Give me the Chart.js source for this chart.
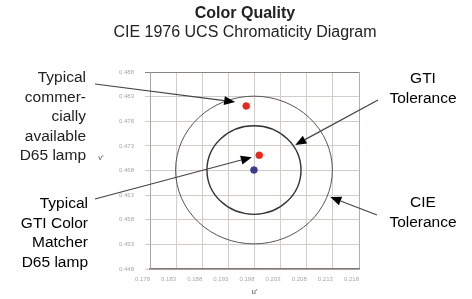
<!DOCTYPE html>
<html>
<head>
<meta charset="utf-8">
<script src="https://cdn.jsdelivr.net/npm/chart.js@4/dist/chart.umd.min.js"></script>
<style>
  html, body { margin: 0; padding: 0; background: #fff; }
  #wrap { width: 472px; height: 299px; position: relative; }
</style>
</head>
<body>
<div id="wrap"><canvas id="chart"></canvas></div>
<script>
// axis ticks
const uTicks = [0.178, 0.183, 0.188, 0.193, 0.198, 0.203, 0.208, 0.213, 0.218];
const uTickLabels = ['0.178', '0.183', '0.188', '0.193', '0.198', '0.203', '0.208', '0.213', '0.218'];
const vTicks = [0.448, 0.453, 0.458, 0.463, 0.468, 0.473, 0.478, 0.483, 0.488];
const vTickLabels = ['0.448', '0.453', '0.458', '0.463', '0.468', '0.473', '0.478', '0.483', '0.488'];

// measured lamps (u', v')
const lampNames = ['Typical commercially available D65 lamp', 'Typical GTI Color Matcher D65 lamp', 'D65 target'];
const lampU = [0.1964, 0.1989, 0.1979];
const lampV = [0.4811, 0.4711, 0.4681];
const lampColors = ['#e8281e', '#e8281e', '#3b3b8f'];

// tolerance circles round the D65 target
const toleranceNames = ['GTI Tolerance', 'CIE Tolerance'];
const toleranceRadius = [0.009, 0.015];

// callouts: text lines and the point (u', v') the arrow points at
const calloutLines = [
    ['Typical', 'commer-', 'cially', 'available', 'D65 lamp'],
    ['Typical', 'GTI Color', 'Matcher', 'D65 lamp'],
    ['GTI', 'Tolerance'],
    ['CIE', 'Tolerance']
];
const calloutTipU = [0.1943, 0.1975, 0.2058, 0.2125];
const calloutTipV = [0.4819, 0.4707, 0.4732, 0.4626];

const titleText = 'Color Quality';
const subtitleText = 'CIE 1976 UCS Chromaticity Diagram';

const FONT = '"Liberation Sans", Arial, sans-serif';

const circlesPlugin = {
    id: 'circles',
    beforeDatasetsDraw(chart) {
        const {ctx, scales: {x, y}} = chart;
        const cu = lampU[2], cv = lampV[2];
        const cx = x.getPixelForValue(cu);
        const cy = y.getPixelForValue(cv);
        ctx.save();
        toleranceRadius.forEach((r, i) => {
            const rx = x.getPixelForValue(cu + r) - cx;
            const ry = cy - y.getPixelForValue(cv + r);
            ctx.beginPath();
            ctx.ellipse(cx, cy, rx, ry, 0, 0, Math.PI * 2);
            ctx.strokeStyle = i === 0 ? '#333' : '#555';
            ctx.lineWidth = i === 0 ? 1.4 : 1;
            ctx.stroke();
        });
        ctx.restore();
    }
};

function arrow(ctx, x0, y0, x1, y1) {
    const ang = Math.atan2(y1 - y0, x1 - x0);
    const len = 11, half = 4.5;
    const bx = x1 - len * Math.cos(ang), by = y1 - len * Math.sin(ang);
    ctx.beginPath();
    ctx.moveTo(x0, y0);
    ctx.lineTo(bx, by);
    ctx.strokeStyle = '#444';
    ctx.lineWidth = 1.2;
    ctx.stroke();
    ctx.beginPath();
    ctx.moveTo(x1, y1);
    ctx.lineTo(bx + half * Math.sin(ang), by - half * Math.cos(ang));
    ctx.lineTo(bx - half * Math.sin(ang), by + half * Math.cos(ang));
    ctx.closePath();
    ctx.fillStyle = '#000';
    ctx.fill();
}

const calloutPlugin = {
    id: 'callouts',
    afterDraw(chart) {
        const {ctx, scales: {x, y}} = chart;
        ctx.save();
        ctx.textBaseline = 'middle';
        ctx.textAlign = 'center';
        ctx.fillStyle = '#222';
        ctx.font = 'bold 16px ' + FONT;
        ctx.fillText(titleText, 245, 14);
        ctx.font = '16px ' + FONT;
        ctx.fillText(subtitleText, 245, 33);

        // text blocks: anchor x, first line y, alignment, arrow tail
        const blocks = [
            {x: 86, y: 78, align: 'right', tail: [95, 84]},
            {x: 88, y: 204, align: 'right', tail: [95, 199]},
            {x: 423, y: 79, align: 'center', tail: [378, 100]},
            {x: 423, y: 203, align: 'center', tail: [377, 215]}
        ];
        ctx.font = '15.5px ' + FONT;
        blocks.forEach((b, i) => {
            ctx.textAlign = b.align;
            calloutLines[i].forEach((t, j) => ctx.fillText(t, b.x, b.y + j * 19.5));
            arrow(ctx, b.tail[0], b.tail[1],
                x.getPixelForValue(calloutTipU[i]), y.getPixelForValue(calloutTipV[i]));
        });
        // v' axis title, upright
        ctx.font = '8px ' + FONT;
        ctx.fillStyle = '#555';
        ctx.textAlign = 'center';
        ctx.fillText("v'", 101, 158);
        ctx.restore();
    }
};

const yGridColor = (ctx) => ctx.index === 8 ? '#8a8380' : '#d3ccc8';
const xGridColor = (ctx) => ctx.index === 8 ? '#b5aeaa' : '#d3ccc8';

new Chart(document.getElementById('chart'), {
    type: 'scatter',
    data: {
        datasets: [{
            label: 'Lamps',
            data: lampU.map((u, i) => ({x: u, y: lampV[i]})),
            backgroundColor: lampColors,
            borderColor: lampColors,
            pointRadius: 3.3,
            pointHoverRadius: 3.3
        }]
    },
    options: {
        responsive: true,
        maintainAspectRatio: false,
        animation: false,
        devicePixelRatio: 1,
        layout: { padding: { left: 100, right: 113, top: 72, bottom: 0 } },
        plugins: {
            legend: { display: false },
            tooltip: { enabled: false },
            title: { display: false }
        },
        scales: {
            x: {
                type: 'linear',
                min: 0.178,
                max: 0.218,
                afterBuildTicks: s => { s.ticks = uTicks.map(v => ({value: v})); },
                afterFit: s => { s.height = 30; },
                ticks: {
                    callback: (v, i) => uTickLabels[i],
                    align: 'end',
                    padding: 7,
                    color: '#a8a8a8',
                    font: { family: FONT, size: 6 },
                    maxRotation: 0
                },
                grid: { color: xGridColor, drawTicks: false },
                border: { color: '#7f7874', width: 1.5 },
                title: {
                    display: true,
                    text: "u'",
                    color: '#555',
                    font: { family: FONT, size: 8 },
                    padding: { top: 0, bottom: 2 }
                }
            },
            y: {
                type: 'linear',
                min: 0.448,
                max: 0.488,
                afterBuildTicks: s => { s.ticks = vTicks.map(v => ({value: v})); },
                afterFit: s => { s.width = 50; },
                ticks: {
                    callback: (v, i) => vTickLabels[i],
                    padding: 11,
                    color: '#a8a8a8',
                    font: { family: FONT, size: 6 }
                },
                grid: { color: yGridColor, tickLength: 5 },
                border: { color: '#aaa39f' }
            }
        }
    },
    plugins: [circlesPlugin, calloutPlugin]
});
</script>
</body>
</html>
